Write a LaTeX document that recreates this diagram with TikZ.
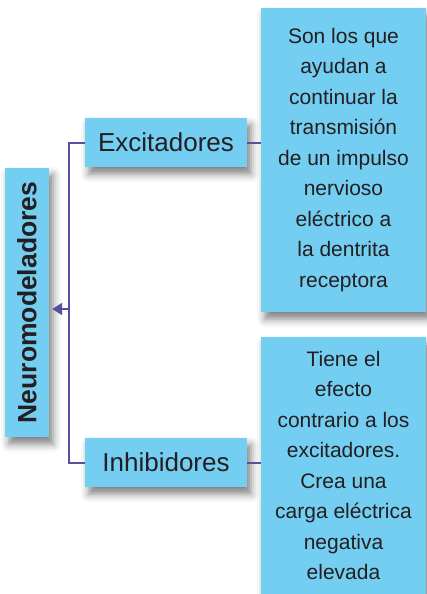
\documentclass[tikz,border=0pt]{standalone}
\usepackage{fontspec}
\setmainfont{Liberation Sans}
\usetikzlibrary{shadows.blur,arrows.meta,calc}
\definecolor{boxblue}{RGB}{116,206,242}
\definecolor{linepurple}{RGB}{90,78,158}
\definecolor{inkgray}{RGB}{35,31,32}
\begin{document}
\begin{tikzpicture}[x=1pt, y=1pt,
        box/.style = {fill=boxblue, text=inkgray, inner sep=0pt,
            blur shadow={shadow xshift=4pt, shadow yshift=-7pt, shadow blur radius=8pt, shadow opacity=50}},
        title/.style = {box, font=\fontsize{26.5}{30}\selectfont\bfseries, rotate=90},
        kind/.style = {box, font=\fontsize{26}{30}\selectfont, minimum width=162, minimum height=49},
        desc/.style = {box, font=\fontsize{21}{30.5}\selectfont, align=center, minimum width=165},
        link/.style = {draw=linepurple, line width=2pt}]
        \useasboundingbox (0,0) rectangle (427,-594);
        \node[title, minimum width=269, minimum height=44] (neuro) at (27,-302.5) {Neuromodeladores};
        \node[kind] (exc) at (166,-142.5) {Excitadores};
        \node[kind] (inh) at (166,-462.5) {Inhibidores};
        \node[desc, minimum height=304] (d1) at (343.5,-160) {Son los que\\ayudan a\\continuar la\\transmisión\\de un impulso\\nervioso\\eléctrico a\\la dentrita\\receptora};
        \node[desc, minimum height=257] (d2) at (343.5,-465.5) {Tiene el\\efecto\\contrario a los\\excitadores.\\Crea una\\carga eléctrica\\negativa\\elevada};
        \coordinate (jn) at (68.5,-309);
        \draw[link] (exc.west) -- (exc.west -| jn) -- (inh.west -| jn) -- (inh.west);
        \draw[link, shorten >=3pt, -{Triangle[length=10pt, width=12pt]}] (jn) -- (jn -| neuro.south);
        \draw[link] (exc.east) -- (exc.east -| d1.west);
        \draw[link] (inh.east) -- (inh.east -| d2.west);
    \end{tikzpicture}
\end{document}
